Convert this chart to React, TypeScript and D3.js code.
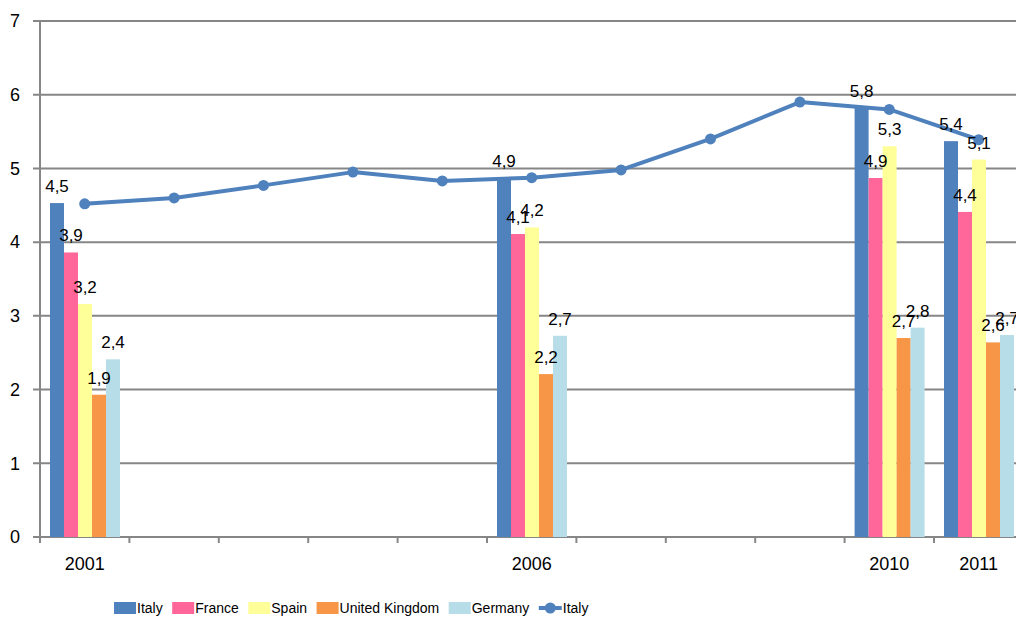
import React, { useEffect, useRef } from 'react';
import * as d3 from 'd3';

const years = ['2001', '2002', '2003', '2004', '2005', '2006', '2007', '2008', '2009', '2010', '2011'];
const shownYearLabels = ['2001', '2006', '2010', '2011'];
const barYears = ['2001', '2006', '2010', '2011'];
const seriesNames = ['Italy', 'France', 'Spain', 'United Kingdom', 'Germany'];
const italyBars = [4.53, 4.87, 5.82, 5.37];
const franceBars = [3.86, 4.11, 4.87, 4.41];
const spainBars = [3.16, 4.2, 5.3, 5.12];
const ukBars = [1.93, 2.21, 2.7, 2.64];
const germanyBars = [2.41, 2.73, 2.84, 2.74];
const italyLine = [4.52, 4.6, 4.77, 4.95, 4.83, 4.875, 4.98, 5.4, 5.9, 5.8, 5.39];
const lineName = 'Italy';
const yTicks = [0, 1, 2, 3, 4, 5, 6, 7];
const colors = ['#4F81BD', '#FF6699', '#FFFF99', '#F79646', '#B7DEE8'];
const lineColor = '#4F81BD';

const W = 1016;
const H = 617;
const FONT = '"Liberation Sans", Arial, sans-serif';

export default function App() {
  const ref = useRef<SVGSVGElement>(null);

  useEffect(() => {
    const svg = d3.select(ref.current);
    svg.selectAll('*').remove();

    const left = 40;
    const top = 21;
    const bottom = 537;
    const bandW = 89.4;
    const x = d3.scaleBand<string>().domain(years).range([left, left + bandW * years.length]).padding(0);
    const y = d3.scaleLinear().domain([0, 7]).range([bottom, top]);
    const inner = d3.scaleBand<string>().domain(seriesNames).range([10, 80]).padding(0);

    const gridColor = '#868686';

    svg.append('g').selectAll('line').data(yTicks).join('line')
      .attr('x1', left - 7).attr('x2', W)
      .attr('y1', (d) => y(d)).attr('y2', (d) => y(d))
      .attr('stroke', gridColor).attr('stroke-width', 2);

    svg.append('line').attr('x1', left).attr('x2', left).attr('y1', top).attr('y2', bottom + 6)
      .attr('stroke', gridColor).attr('stroke-width', 2);

    const tickPos = years.map((yr) => x(yr) as number).concat([(x(years[years.length - 1]) as number) + x.bandwidth()]);
    svg.append('g').selectAll('line').data(tickPos).join('line')
      .attr('x1', (d) => d).attr('x2', (d) => d)
      .attr('y1', bottom).attr('y2', bottom + 6)
      .attr('stroke', gridColor).attr('stroke-width', 2);

    svg.append('g').selectAll('text').data(yTicks).join('text')
      .attr('x', 20).attr('y', (d) => y(d))
      .attr('dy', '0.35em')
      .attr('text-anchor', 'end')
      .attr('font-family', FONT).attr('font-size', 18).attr('fill', '#000')
      .text((d) => String(d));

    svg.append('g').selectAll('text').data(shownYearLabels).join('text')
      .attr('x', (d) => (x(d) as number) + x.bandwidth() / 2)
      .attr('y', 570)
      .attr('text-anchor', 'middle')
      .attr('font-family', FONT).attr('font-size', 18).attr('fill', '#000')
      .text((d) => d);

    const allBars = [italyBars, franceBars, spainBars, ukBars, germanyBars];
    const barData: { year: string; name: string; value: number; color: string }[] = [];
    allBars.forEach((vals, si) => {
      vals.forEach((v, yi) => {
        barData.push({ year: barYears[yi], name: seriesNames[si], value: v, color: colors[si] });
      });
    });

    svg.append('g').selectAll('rect').data(barData).join('rect')
      .attr('x', (d) => (x(d.year) as number) + (inner(d.name) as number))
      .attr('width', inner.bandwidth())
      .attr('y', (d) => y(d.value))
      .attr('height', (d) => bottom - y(d.value))
      .attr('fill', (d) => d.color);

    const lineGen = d3.line<number>()
      .x((_, i) => (x(years[i]) as number) + x.bandwidth() / 2)
      .y((d) => y(d));
    svg.append('path').datum(italyLine)
      .attr('d', lineGen)
      .attr('fill', 'none').attr('stroke', lineColor).attr('stroke-width', 4)
      .attr('stroke-linejoin', 'round');
    svg.append('g').selectAll('circle').data(italyLine).join('circle')
      .attr('cx', (_, i) => (x(years[i]) as number) + x.bandwidth() / 2)
      .attr('cy', (d) => y(d))
      .attr('r', 5.5)
      .attr('fill', lineColor);

    const fmt = (v: number) => d3.format('.1f')(v).replace('.', ',');
    svg.append('g').selectAll('text').data(barData).join('text')
      .attr('x', (d) => (x(d.year) as number) + (inner(d.name) as number) + inner.bandwidth() / 2)
      .attr('y', (d) => y(d.value) - 11)
      .attr('text-anchor', 'middle')
      .attr('font-family', FONT).attr('font-size', 17).attr('fill', '#000')
      .text((d) => fmt(d.value));

    const lg = svg.append('g');
    let cx = 114;
    const ly = 608;
    seriesNames.forEach((name, i) => {
      lg.append('rect').attr('x', cx).attr('y', ly - 6).attr('width', 22).attr('height', 12).attr('fill', colors[i]);
      const t = lg.append('text').attr('x', cx + 23).attr('y', ly).attr('dy', '0.35em')
        .attr('font-family', FONT).attr('font-size', 14).attr('fill', '#000').text(name);
      const tw = (t.node() as SVGTextElement).getComputedTextLength();
      cx = cx + 23 + tw + 9.5;
    });
    lg.append('line').attr('x1', cx).attr('x2', cx + 23).attr('y1', ly).attr('y2', ly)
      .attr('stroke', lineColor).attr('stroke-width', 4);
    lg.append('circle').attr('cx', cx + 11.5).attr('cy', ly).attr('r', 5.5).attr('fill', lineColor);
    lg.append('text').attr('x', cx + 24).attr('y', ly).attr('dy', '0.35em')
      .attr('font-family', FONT).attr('font-size', 14).attr('fill', '#000').text(lineName);
  }, []);

  return (
    <svg
      ref={ref}
      width={W}
      height={H}
      style={{ position: 'absolute', left: 0, top: 0, background: '#fff' }}
    />
  );
}
